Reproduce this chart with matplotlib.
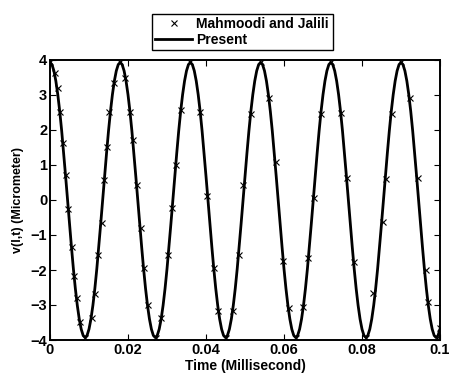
import matplotlib
matplotlib.use("Agg")
import matplotlib.pyplot as plt
import numpy as np

plt.rcParams["font.family"] = ["Liberation Sans", "DejaVu Sans"]
plt.rcParams["font.weight"] = "bold"
plt.rcParams["axes.labelweight"] = "bold"

marker_t = [0.0000, 0.00128, 0.00197, 0.00256, 0.00342, 0.00410, 0.00470, 0.00556,
            0.00624, 0.00692, 0.00761, 0.00897, 0.01068, 0.01154, 0.01239, 0.01325,
            0.01393, 0.01453, 0.01513, 0.01633, 0.01795, 0.01923, 0.02051, 0.02120,
            0.02222, 0.02325, 0.02410, 0.02521, 0.02718, 0.02838, 0.03034, 0.03128,
            0.03223, 0.03359, 0.03590, 0.03846, 0.04034, 0.04214, 0.04316, 0.04505,
            0.04692, 0.04846, 0.04958, 0.05154, 0.05403, 0.05623, 0.05787, 0.05983,
            0.06137, 0.06308, 0.06479, 0.06624, 0.06777, 0.06949, 0.07205, 0.07462,
            0.07607, 0.07795, 0.08103, 0.08290, 0.08531, 0.08608, 0.08761, 0.09000,
            0.09231, 0.09428, 0.09633, 0.09700, 0.09915, 0.10000]
marker_v = [3.95, 3.62, 3.19, 2.52, 1.62, 0.71, -0.26, -1.33,
            -2.16, -2.81, -3.48, -3.95, -3.38, -2.69, -1.57, -0.67,
            0.57, 1.52, 2.52, 3.34, 3.95, 3.48, 2.52, 1.71,
            0.43, -0.81, -1.95, -3.00, -3.95, -3.38, -1.57, -0.24,
            1.00, 2.57, 3.95, 2.52, 0.12, -1.95, -3.17, -3.95,
            -3.17, -1.57, 0.43, 2.45, 3.95, 2.92, 1.08, -1.74,
            -3.09, -3.95, -3.05, -1.67, 0.05, 2.45, 3.95, 2.48,
            0.64, -1.76, -3.95, -2.67, -0.62, 0.60, 2.45, 3.95,
            2.91, 0.64, -2.00, -2.92, -3.95, -3.67]

# Present solution, sampled every 0.0005 ms from 0 to 0.1 ms
present_t = np.linspace(0, 0.1, 201)
present_v = [
    3.93, 3.87, 3.69, 3.40, 3.01, 2.53, 1.97, 1.34, 0.68, 0.00, -0.68, -1.34, -1.97, -2.53, -3.01, -3.40, -3.69, -3.87,
    -3.93, -3.87, -3.69, -3.40, -3.01, -2.53, -1.97, -1.34, -0.68, 0.00, 0.68, 1.34, 1.97, 2.53, 3.01, 3.40, 3.69, 3.87,
    3.93, 3.87, 3.69, 3.40, 3.01, 2.53, 1.97, 1.34, 0.68, 0.00, -0.68, -1.34, -1.97, -2.53, -3.01, -3.40, -3.69, -3.87,
    -3.93, -3.87, -3.69, -3.40, -3.01, -2.53, -1.97, -1.34, -0.68, 0.00, 0.68, 1.34, 1.97, 2.53, 3.01, 3.40, 3.69, 3.87,
    3.93, 3.87, 3.69, 3.40, 3.01, 2.53, 1.97, 1.34, 0.68, 0.00, -0.68, -1.34, -1.97, -2.53, -3.01, -3.40, -3.69, -3.87,
    -3.93, -3.87, -3.69, -3.40, -3.01, -2.53, -1.97, -1.34, -0.68, 0.00, 0.68, 1.34, 1.97, 2.53, 3.01, 3.40, 3.69, 3.87,
    3.93, 3.87, 3.69, 3.40, 3.01, 2.53, 1.97, 1.34, 0.68, 0.00, -0.68, -1.34, -1.97, -2.53, -3.01, -3.40, -3.69, -3.87,
    -3.93, -3.87, -3.69, -3.40, -3.01, -2.53, -1.97, -1.34, -0.68, 0.00, 0.68, 1.34, 1.97, 2.53, 3.01, 3.40, 3.69, 3.87,
    3.93, 3.87, 3.69, 3.40, 3.01, 2.53, 1.97, 1.34, 0.68, 0.00, -0.68, -1.34, -1.97, -2.53, -3.01, -3.40, -3.69, -3.87,
    -3.93, -3.87, -3.69, -3.40, -3.01, -2.53, -1.97, -1.34, -0.68, 0.00, 0.68, 1.34, 1.97, 2.53, 3.01, 3.40, 3.69, 3.87,
    3.93, 3.87, 3.69, 3.40, 3.01, 2.53, 1.97, 1.34, 0.68, 0.00, -0.68, -1.34, -1.97, -2.53, -3.01, -3.40, -3.69, -3.87,
    -3.93, -3.87, -3.69,
]

x_ticks = [0, 0.02, 0.04, 0.06, 0.08, 0.1]
x_tick_labels = ["0", "0.02", "0.04", "0.06", "0.08", "0.1"]
y_ticks = [-4, -3, -2, -1, 0, 1, 2, 3, 4]

fig = plt.figure(figsize=(4.49, 3.75), dpi=100)
ax = fig.add_axes([50 / 449, 35 / 375, 390 / 449, 280 / 375])

ax.plot(marker_t, marker_v, linestyle="none", marker="x", color="black",
        markersize=4.5, markeredgewidth=0.8, label="Mahmoodi and Jalili", zorder=3)
ax.plot(present_t, present_v, color="black", linewidth=2.0, label="Present", zorder=2)

ax.set_xlim(0, 0.1)
ax.set_ylim(-4, 4)
ax.set_xticks(x_ticks)
ax.set_xticklabels(x_tick_labels)
ax.set_yticks(y_ticks)
ax.tick_params(direction="in", length=4, width=0.8, labelsize=10.5,
               top=True, right=True, pad=2)
for s in ax.spines.values():
    s.set_linewidth(1.4)

ax.set_xlabel("Time (Millisecond)", fontsize=10, labelpad=1.5)
ax.set_ylabel("v(l,t) (Micrometer)", fontsize=9, labelpad=5)

fig.legend(loc="lower left", bbox_to_anchor=(152 / 449, 325 / 375),
           borderaxespad=0, fancybox=False, edgecolor="black", framealpha=1,
           fontsize=10, handlelength=2.6, handletextpad=0.35,
           borderpad=0.25, labelspacing=0.1)

fig.savefig("out.png", dpi=100)
